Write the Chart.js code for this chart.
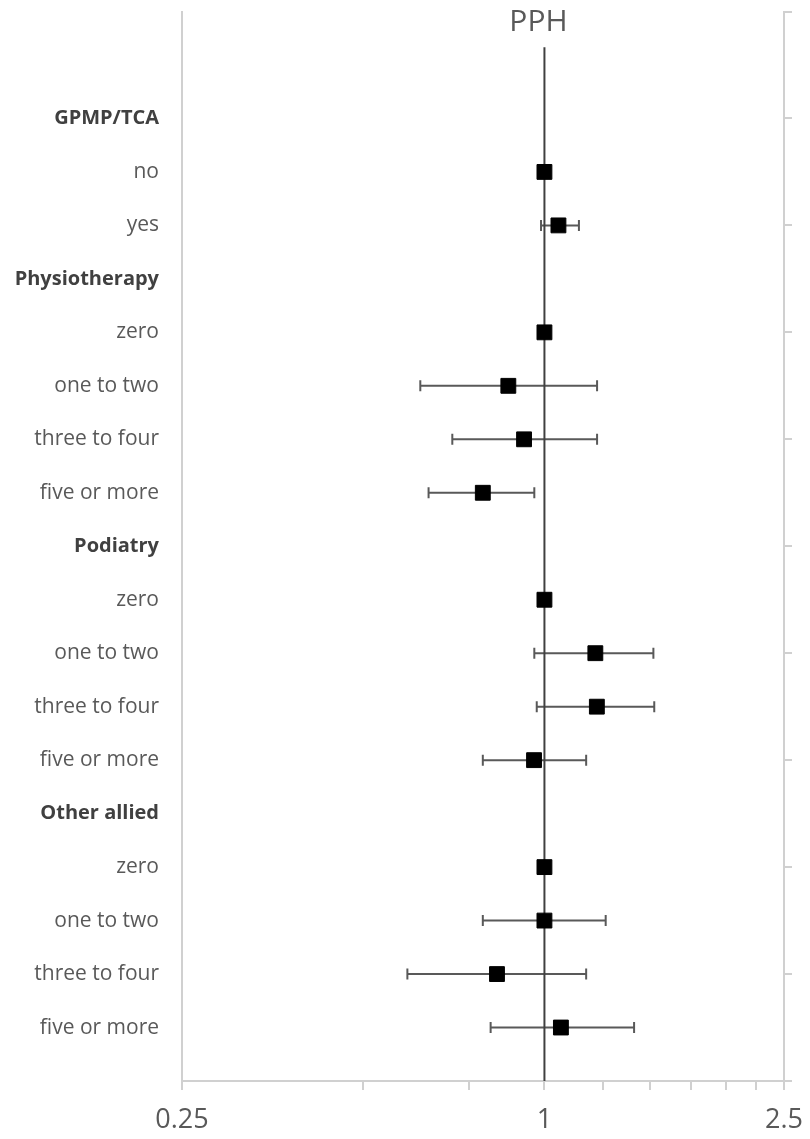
<!DOCTYPE html>
<html>
<head>
<meta charset="utf-8">
<title>PPH</title>
<script src="https://cdn.jsdelivr.net/npm/chart.js@4.4.1/dist/chart.umd.min.js"></script>
<style>
  html, body { margin: 0; padding: 0; background: #ffffff; }
  #wrap { width: 810px; height: 1139px; }
</style>
</head>
<body>
<div id="wrap"><canvas id="forest" width="810" height="1139"></canvas></div>
<script>
// Row labels, top to bottom; group headings are flagged in isHeader
const rowLabels = ['GPMP/TCA', 'no', 'yes',
  'Physiotherapy', 'zero', 'one to two', 'three to four', 'five or more',
  'Podiatry', 'zero', 'one to two', 'three to four', 'five or more',
  'Other allied', 'zero', 'one to two', 'three to four', 'five or more'];
const isHeader = [true, false, false,
  true, false, false, false, false,
  true, false, false, false, false,
  true, false, false, false, false];

// Point estimates and 95% confidence limits (null = no mark on that row)
const estimate = [null, 1.00, 1.055,
  null, 1.00, 0.871, 0.925, 0.790,
  null, 1.00, 1.215, 1.222, 0.961,
  null, 1.00, 1.00, 0.834, 1.065];
const lower = [null, null, 0.987,
  null, null, 0.622, 0.703, 0.642,
  null, null, 0.962, 0.971, 0.790,
  null, null, 0.790, 0.592, 0.814];
const upper = [null, null, 1.141,
  null, null, 1.223, 1.223, 0.962,
  null, null, 1.517, 1.522, 1.173,
  null, null, 1.264, 1.173, 1.409];

// Horizontal (log) axis ticks and the ones that carry a label
const xTicks = [0.25, 0.5, 0.75, 1, 1.25, 1.5, 1.75, 2, 2.25, 2.5];
const xLabelled = [0.25, 1, 2.5];

// Vertical line of no effect
const refValue = 1;
const refSpan = [-0.33, 19];

const chartTitle = 'PPH';

const AXIS_GREY = '#d0d0d0';
const FONT = '"Open Sans", Lato, "DejaVu Sans", sans-serif';

// rows are numbered 1..n from the top
const rows = rowLabels.map((_, i) => i + 1);

const datasets = [];

// square markers for the estimates (drawn on top)
datasets.push({
  type: 'scatter',
  label: 'estimate',
  order: 0,
  data: rows.map((r, i) => estimate[i] == null ? null : { x: estimate[i], y: r }).filter(Boolean),
  pointStyle: 'rect',
  pointRadius: 10.5,
  pointHoverRadius: 10.5,
  backgroundColor: '#000000',
  borderColor: '#000000',
  borderWidth: 1,
  showLine: false
});

// line of no effect
datasets.push({
  type: 'line',
  label: 'ref',
  order: 1,
  data: refSpan.map(y => ({ x: refValue, y })),
  borderColor: '#404040',
  borderWidth: 2,
  pointRadius: 0,
  fill: false
});

// confidence interval whiskers, each with vertical end caps
rows.forEach((r, i) => {
  if (lower[i] == null || upper[i] == null) return;
  datasets.push({
    type: 'line',
    label: 'ci' + r,
    order: 2,
    data: [{ x: lower[i], y: r }, { x: upper[i], y: r }],
    borderColor: '#595959',
    borderWidth: 2,
    pointStyle: 'line',
    pointRotation: 90,
    pointRadius: 5.5,
    pointHoverRadius: 5.5,
    pointBorderColor: '#595959',
    pointBorderWidth: 2,
    fill: false
  });
});

// title sitting just above the line of no effect
const titlePlugin = {
  id: 'pphTitle',
  afterDraw(chart) {
    const { ctx } = chart;
    const x = chart.scales.x.getPixelForValue(refValue) - 6;
    ctx.save();
    ctx.fillStyle = '#595959';
    ctx.font = '30px ' + FONT;
    ctx.textAlign = 'center';
    ctx.textBaseline = 'middle';
    ctx.fillText(chartTitle, x, 22);
    ctx.restore();
  }
};

// keep the plot area fixed: no extra room for overhanging tick labels
function noOverhang(scale) {
  scale.paddingTop = 0;
  scale.paddingBottom = 0;
  scale.paddingLeft = 0;
  scale.paddingRight = 0;
}

new Chart(document.getElementById('forest'), {
  type: 'scatter',
  data: { datasets },
  plugins: [titlePlugin],
  options: {
    responsive: false,
    animation: false,
    devicePixelRatio: 1,
    layout: { padding: { top: 11, left: 0, right: 0, bottom: 0 } },
    plugins: {
      legend: { display: false },
      tooltip: { enabled: false },
      title: { display: false }
    },
    scales: {
      x: {
        type: 'logarithmic',
        position: 'bottom',
        min: 0.25,
        max: 2.5,
        afterBuildTicks(scale) {
          scale.ticks = xTicks.map(v => ({ value: v }));
        },
        afterFit(scale) { scale.height = 58; noOverhang(scale); },
        ticks: {
          autoSkip: false,
          maxRotation: 0,
          padding: 14,
          color: '#595959',
          font: { family: FONT, size: 27 },
          callback: (v) => xLabelled.includes(v) ? String(v) : ''
        },
        grid: {
          display: true,
          drawOnChartArea: false,
          drawTicks: true,
          tickLength: 9,
          color: AXIS_GREY,
          lineWidth: 2
        },
        border: { display: true, color: AXIS_GREY, width: 2 }
      },
      y: {
        type: 'linear',
        position: 'left',
        reverse: true,
        min: -1,
        max: 19,
        afterBuildTicks(scale) {
          scale.ticks = rows.map(v => ({ value: v }));
        },
        afterFit(scale) { scale.width = 182; noOverhang(scale); },
        ticks: {
          autoSkip: false,
          padding: 15,
          color: (ctx) => isHeader[ctx.index] ? '#404040' : '#595959',
          font: (ctx) => ({
            family: FONT,
            size: isHeader[ctx.index] ? 20 : 21,
            weight: isHeader[ctx.index] ? 'bold' : 'normal'
          }),
          callback: (v) => rowLabels[v - 1] || ''
        },
        grid: { display: false },
        border: { display: true, color: AXIS_GREY, width: 2 }
      },
      y2: {
        type: 'linear',
        position: 'right',
        reverse: true,
        min: -1,
        max: 19,
        ticks: { display: false, stepSize: 2 },
        afterFit(scale) { scale.width = 26; noOverhang(scale); },
        grid: {
          display: true,
          drawOnChartArea: false,
          drawTicks: true,
          tickLength: 8,
          color: AXIS_GREY,
          lineWidth: 2
        },
        border: { display: true, color: AXIS_GREY, width: 2 }
      }
    }
  }
});
</script>
</body>
</html>
